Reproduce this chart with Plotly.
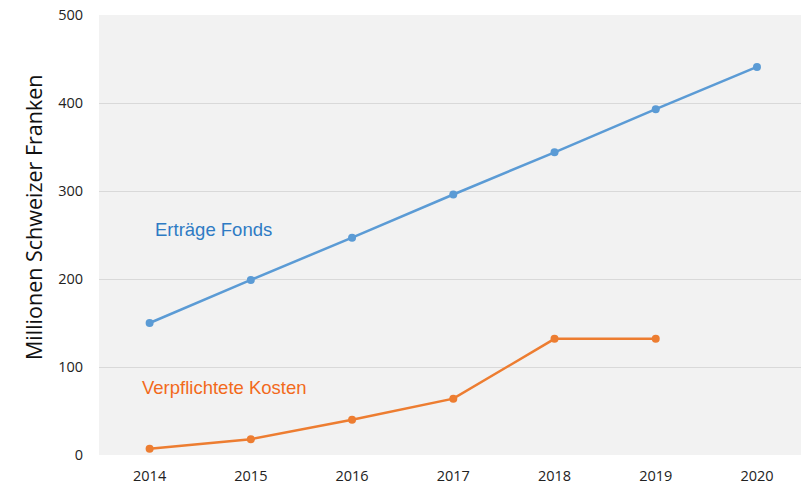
#!/usr/bin/env python
'''Ertraege Fonds vs. verpflichtete Kosten, 2014-2020.'''

import plotly.graph_objects as go

years = ['2014', '2015', '2016', '2017', '2018', '2019', '2020']
ertraege = [150, 199, 247, 296, 344, 393, 441]
kosten_years = ['2014', '2015', '2016', '2017', '2018', '2019']
kosten = [7, 18, 40, 64, 132, 132]
y_ticks = [0, 100, 200, 300, 400, 500]

BLUE = '#5B9BD5'
ORANGE = '#ED7D31'
TICK_FONT = dict(family='Open Sans, Liberation Sans, sans-serif', size=14.5, color='#222222')
LABEL_FONT = 'Liberation Sans, Arial, sans-serif'

W, H = 801, 488
L, R, T, B = 99, 0, 15, 33


def main():
    '''Build and write the figure.'''
    fig = go.Figure()
    fig.add_trace(go.Scatter(
        x=years, y=ertraege, mode='lines+markers', name='Erträge Fonds',
        line=dict(color=BLUE, width=2.5), marker=dict(color=BLUE, size=8),
    ))
    fig.add_trace(go.Scatter(
        x=kosten_years, y=kosten, mode='lines+markers', name='Verpflichtete Kosten',
        line=dict(color=ORANGE, width=2.5), marker=dict(color=ORANGE, size=8),
    ))

    fig.add_annotation(x=0.63, y=256, xref='x', yref='y', text='Erträge Fonds',
                       showarrow=False,
                       font=dict(family=LABEL_FONT, size=18.5, color='#2E7BC4'))
    fig.add_annotation(x=0.74, y=77, xref='x', yref='y', text='Verpflichtete Kosten',
                       showarrow=False,
                       font=dict(family=LABEL_FONT, size=18.5, color='#F26A1B'))
    pw, ph = W - L - R, H - T - B
    fig.add_annotation(x=(33 - L) / pw, y=(H - 217 - B) / ph, xref='paper', yref='paper',
                       xanchor='center', yanchor='middle',
                       text='Millionen Schweizer Franken', textangle=-90, showarrow=False,
                       font=dict(family='Open Sans, Liberation Sans, sans-serif', size=21.5,
                                 color='#111111'))

    fig.update_layout(
        width=W, height=H,
        margin=dict(l=L, r=R, t=T, b=B, autoexpand=False),
        paper_bgcolor='white', plot_bgcolor='#F2F2F2',
        showlegend=False,
        xaxis=dict(type='category', range=[-0.5, 6.435], showgrid=False,
                   zeroline=False, showline=False, ticks='', automargin=False,
                   tickfont=TICK_FONT, ticklabelstandoff=10),
        yaxis=dict(range=[0, 500], tickvals=y_ticks, gridcolor='#D9D9D9',
                   gridwidth=1, zeroline=False, showline=False, ticks='',
                   automargin=False, tickfont=TICK_FONT, ticklabelstandoff=15,
                   ticklabeloverflow='allow'),
    )
    # drop the browser's default body margin so the figure fills the window
    fig.write_html('out.html', config={'displayModeBar': False},
                   post_script="document.body.style.margin='0';")


if __name__ == '__main__':
    main()
